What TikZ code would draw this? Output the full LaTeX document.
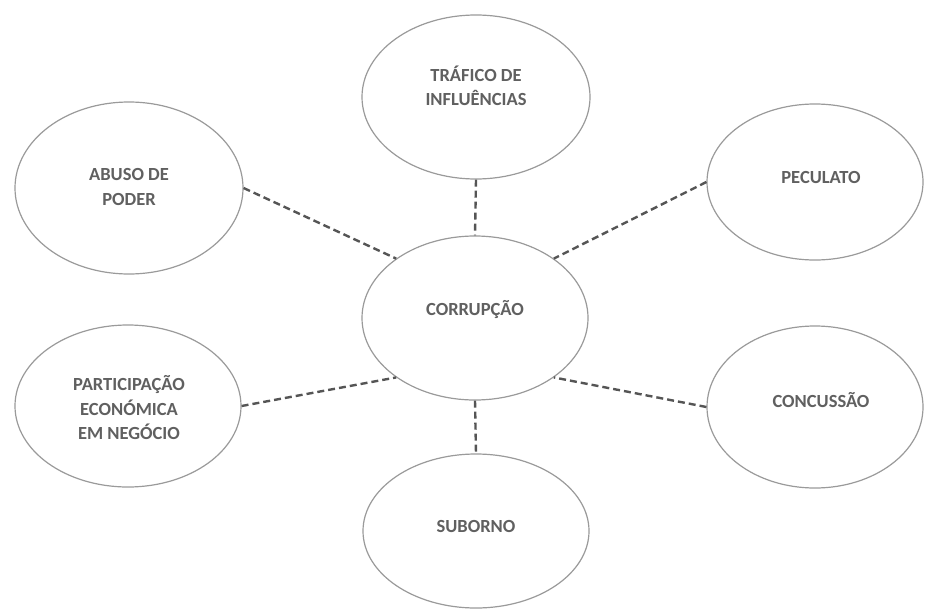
\documentclass[tikz,border=0pt]{standalone}
\usepackage{fontspec}
\setmainfont{Carlito}
\usetikzlibrary{shapes.geometric}
\definecolor{txt}{HTML}{606060}
\definecolor{edge}{HTML}{9A9A9A}
\definecolor{dash}{HTML}{555555}
\begin{document}
\begin{tikzpicture}[x=1pt,y=-1pt,
  bubble/.style={ellipse, draw=edge, line width=1.2pt, fill=white, inner sep=0pt},
  lbl/.style={text=txt, font=\fontsize{18.5}{24.5}\selectfont\bfseries, align=center, inner sep=0pt},
  link/.style={draw=dash, line width=2.4pt, dash pattern=on 7pt off 4pt}]
\useasboundingbox (0,0) rectangle (925,610);
\node[bubble, minimum width=228pt, minimum height=164pt] (trafico) at (476,97) {};
\node[bubble, minimum width=228pt, minimum height=172pt] (abuso) at (129,188) {};
\node[bubble, minimum width=216pt, minimum height=156pt] (peculato) at (815,182) {};
\node[bubble, minimum width=226pt, minimum height=164pt] (corr) at (475,318) {};
\node[bubble, minimum width=226pt, minimum height=162pt] (part) at (128,406) {};
\node[bubble, minimum width=216pt, minimum height=162pt] (conc) at (815,407) {};
\node[bubble, minimum width=226pt, minimum height=154pt] (suborno) at (476,531) {};
\node[lbl] (traficoT) at (476,86) {TRÁFICO DE\\INFLUÊNCIAS};
\node[lbl] (abusoT) at (129,187) {ABUSO DE\\PODER};
\node[lbl] (peculatoT) at (821,177) {PECULATO};
\node[lbl] (corrT) at (475,310) {CORRUPÇÃO};
\node[lbl] (partT) at (129,408) {PARTICIPAÇÃO\\ECONÓMICA\\EM NEGÓCIO};
\node[lbl] (concT) at (821,400) {CONCUSSÃO};
\node[lbl] (subornoT) at (476,526) {SUBORNO};
\draw[link] (trafico.south) -- (corr.north);
\draw[link] (corr.south) -- (suborno.north);
\draw[link] (abuso.east) -- (corr.143);
\draw[link] (peculato.west) -- (corr.37);
\draw[link] (part.east) -- (corr.217);
\draw[link] (conc.west) -- (corr.-37);
\end{tikzpicture}
\end{document}
